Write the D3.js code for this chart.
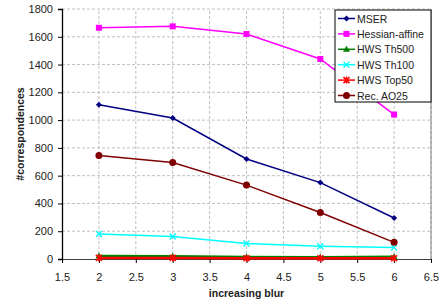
<!DOCTYPE html>
<html>
<head>
<meta charset="utf-8">
<script src="https://cdn.jsdelivr.net/npm/d3@7"></script>
<style>
  body { margin: 0; background: #fff; }
  svg text { font-family: "Liberation Sans", Arial, sans-serif; fill: #222; }
</style>
</head>
<body>
<div id="chart"></div>
<script>
// blur levels on the x axis
const blurLevels = [2, 3, 4, 5, 6];

const mser = [1110, 1015, 720, 550, 295];
const hessianAffine = [1665, 1675, 1620, 1440, 1040];
const hwsTh500 = [22, 20, 15, 12, 16];
const hwsTh100 = [180, 162, 112, 92, 82];
const hwsTop50 = [8, 8, 6, 5, 6];
const recAO25 = [745, 695, 532, 335, 120];

const xTicks = [1.5, 2, 2.5, 3, 3.5, 4, 4.5, 5, 5.5, 6, 6.5];
const yTicks = [0, 200, 400, 600, 800, 1000, 1200, 1400, 1600, 1800];

const series = [
  { name: 'MSER', values: mser, color: '#000080', marker: 'diamond' },
  { name: 'Hessian-affine', values: hessianAffine, color: '#ff00ff', marker: 'square' },
  { name: 'HWS Th500', values: hwsTh500, color: '#008000', marker: 'triangle' },
  { name: 'HWS Th100', values: hwsTh100, color: '#00ffff', marker: 'x' },
  { name: 'HWS Top50', values: hwsTop50, color: '#ff0000', marker: 'star' },
  { name: 'Rec. AO25', values: recAO25, color: '#800000', marker: 'circle' },
];

const width = 444;
const height = 304;
const margin = { left: 62, right: 13, top: 9, bottom: 45 };

const svg = d3.select('#chart').append('svg')
  .attr('width', width)
  .attr('height', height);

const x = d3.scaleLinear().domain([1.5, 6.5]).range([margin.left, width - margin.right]);
const y = d3.scaleLinear().domain([0, 1800]).range([height - margin.bottom, margin.top]);

// grid
svg.append('g').selectAll('line.gx')
  .data(xTicks.slice(1))
  .join('line')
  .attr('x1', (d) => x(d)).attr('x2', (d) => x(d))
  .attr('y1', y(0)).attr('y2', y(1800))
  .attr('stroke', '#c0c0c0')
  .attr('stroke-dasharray', '3,2');
svg.append('g').selectAll('line.gy')
  .data(yTicks.slice(1))
  .join('line')
  .attr('x1', x(1.5)).attr('x2', x(6.5))
  .attr('y1', (d) => y(d)).attr('y2', (d) => y(d))
  .attr('stroke', '#c0c0c0')
  .attr('stroke-dasharray', '3,2');

// right border
svg.append('line')
  .attr('x1', x(6.5)).attr('x2', x(6.5))
  .attr('y1', y(0)).attr('y2', y(1800))
  .attr('stroke', '#808080');

// axes
const xAxis = svg.append('g')
  .attr('transform', `translate(0,${y(0)})`)
  .call(d3.axisBottom(x).tickValues(xTicks).tickSize(4).tickPadding(10).tickFormat(d3.format('')));
xAxis.select('.domain').attr('stroke', '#404040');
xAxis.selectAll('.tick line').attr('stroke', '#000');
xAxis.selectAll('text').attr('font-size', 11).attr('fill', '#222');

const yAxis = svg.append('g')
  .attr('transform', `translate(${x(1.5)},0)`)
  .call(d3.axisLeft(y).tickValues(yTicks).tickSize(4).tickPadding(5).tickFormat(d3.format('d')));
yAxis.select('.domain').attr('stroke', '#000').attr('stroke-width', 1.3);
yAxis.selectAll('.tick line').attr('stroke', '#000');
yAxis.selectAll('text').attr('font-size', 11).attr('fill', '#222');

// axis titles
svg.append('text')
  .attr('x', (x(1.5) + x(6.5)) / 2)
  .attr('y', 297)
  .attr('text-anchor', 'middle')
  .attr('font-size', 10.5)
  .attr('font-weight', 'bold')
  .text('increasing blur');

svg.append('text')
  .attr('transform', `translate(24,${(y(0) + y(1800)) / 2}) rotate(-90)`)
  .attr('text-anchor', 'middle')
  .attr('font-size', 10.5)
  .attr('font-weight', 'bold')
  .text('#correspondences');

function drawMarker(g, type, color) {
  if (type === 'diamond') {
    g.append('path').attr('d', 'M0,-3L3,0L0,3L-3,0Z').attr('fill', color);
  } else if (type === 'square') {
    g.append('rect').attr('x', -3).attr('y', -3).attr('width', 6).attr('height', 6).attr('fill', color);
  } else if (type === 'triangle') {
    g.append('path').attr('d', 'M0,-3.5L3.5,2.5L-3.5,2.5Z').attr('fill', color);
  } else if (type === 'x') {
    g.append('path').attr('d', 'M-3,-3L3,3M-3,3L3,-3').attr('stroke', color).attr('stroke-width', 1.3);
  } else if (type === 'star') {
    g.append('path').attr('d', 'M-3,-3L3,3M-3,3L3,-3M0,-3.5V3.5').attr('stroke', color).attr('stroke-width', 1.5);
  } else if (type === 'circle') {
    g.append('circle').attr('r', 3.5).attr('fill', color);
  }
}

const line = d3.line()
  .x((d) => x(d[0]))
  .y((d) => y(d[1]));

series.forEach((s) => {
  const pts = blurLevels.map((b, i) => [b, s.values[i]]);
  svg.append('path')
    .datum(pts)
    .attr('fill', 'none')
    .attr('stroke', s.color)
    .attr('stroke-width', s.marker === 'star' || s.marker === 'triangle' ? 2.5 : 1.5)
    .attr('d', line);
  pts.forEach((p) => {
    const g = svg.append('g').attr('transform', `translate(${x(p[0])},${y(p[1])})`);
    drawMarker(g, s.marker, s.color);
  });
});

// legend
const legend = svg.append('g').attr('transform', 'translate(335,10)');
legend.append('rect')
  .attr('width', 96).attr('height', 92)
  .attr('fill', '#fff')
  .attr('stroke', '#000');
series.forEach((s, i) => {
  const ly = 8.5 + i * 15.4;
  const row = legend.append('g').attr('transform', `translate(0,${ly})`);
  row.append('line')
    .attr('x1', 3).attr('x2', 20)
    .attr('stroke', s.color).attr('stroke-width', 1.5);
  const m = row.append('g').attr('transform', 'translate(11.5,0)');
  drawMarker(m, s.marker, s.color);
  row.append('text')
    .attr('x', 22)
    .attr('y', 4)
    .attr('font-size', 10.5)
    .text(s.name);
});
</script>
</body>
</html>
